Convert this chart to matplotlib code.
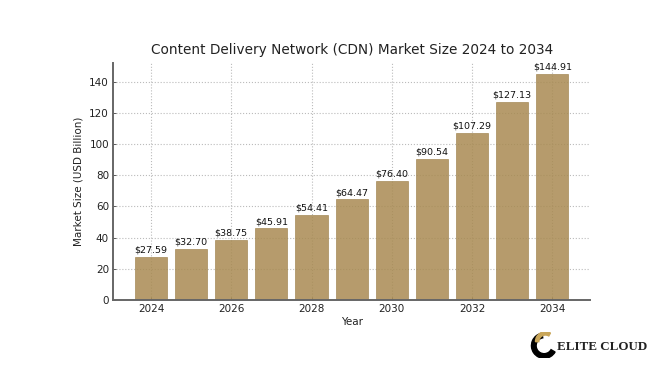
import numpy as np
import matplotlib.pyplot as plt
from matplotlib.patches import Wedge

# data
years = [2024, 2025, 2026, 2027, 2028, 2029, 2030, 2031, 2032, 2033, 2034]
market_size = [27.59, 32.70, 38.75, 45.91, 54.41, 64.47, 76.40, 90.54, 107.29, 127.13, 144.91]

fig = plt.figure(figsize=(6.66, 3.74), dpi=100)
ax = fig.add_axes([0.170, 0.198, 0.716, 0.634])

bars = ax.bar(years, market_size, width=0.8, color='#a98a52', alpha=0.85,
              edgecolor='#9c7f48', linewidth=0.5, zorder=2)
for b, v in zip(bars, market_size):
    ax.text(b.get_x() + b.get_width() / 2, v + 1.5, '$%.2f' % v,
            ha='center', va='bottom', fontsize=6.8, color='#111111')

ax.grid(True, linestyle=':', color='#bbbbbb', linewidth=0.8, zorder=0)
ax.set_axisbelow(True)
ax.set_title('Content Delivery Network (CDN) Market Size 2024 to 2034',
             fontsize=9.8, pad=6, color='#222222')
ax.set_xlabel('Year', fontsize=7.5, labelpad=2, color='#222222')
ax.set_ylabel('Market Size (USD Billion)', fontsize=7.5, color='#222222')
ax.tick_params(labelsize=7.5, length=2.5, width=0.6, direction='in', pad=3,
               color='#444444', labelcolor='#222222')
for s in ['top', 'right']:
    ax.spines[s].set_visible(False)
for s in ['left', 'bottom']:
    ax.spines[s].set_color('#666666')
    ax.spines[s].set_linewidth(1.4)

# logo
lax = fig.add_axes([0.795, 0.04, 0.04, 0.075])
lax.set_xlim(-1, 1)
lax.set_ylim(-1, 1)
lax.set_aspect('equal')
lax.axis('off')
lax.add_patch(Wedge((0.1, -0.05), 0.95, 100, 330, width=0.35, color='black'))
lax.add_patch(Wedge((0.2, 0.25), 0.75, 60, 180, width=0.25, color='#c9a659'))
fig.text(0.836, 0.072, 'ELITE CLOUD', fontsize=9.4, family='Liberation Serif',
         weight='bold', va='center', ha='left', color='#222222')

fig.savefig('out.png', dpi=100)
